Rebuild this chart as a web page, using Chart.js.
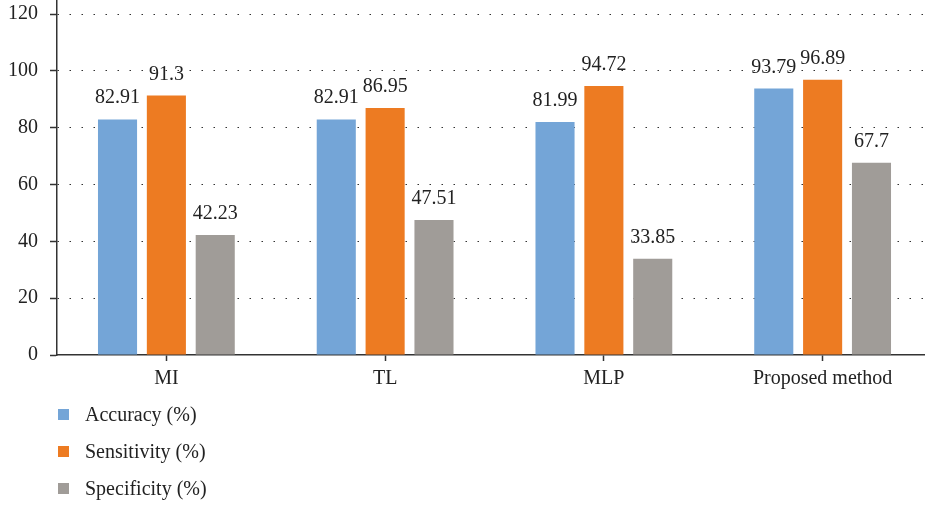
<!DOCTYPE html>
<html>
<head>
<meta charset="utf-8">
<script src="https://cdn.jsdelivr.net/npm/chart.js@4"></script>
<style>
  body { margin: 0; background: #fff; }
  #wrap { position: relative; width: 925px; height: 505px; overflow: hidden; }
  #chart { position: absolute; left: -4px; top: -23px; }
  #legend { position: absolute; left: 58px; top: 396px; font-family: "Liberation Serif", serif; font-size: 20px; color: #222; }
  .item { height: 37px; display: flex; align-items: center; }
  .box { width: 11px; height: 11px; margin-right: 16px; }
</style>
</head>
<body>
<div id="wrap">
  <canvas id="chart" width="936" height="528"></canvas>
  <div id="legend"></div>
</div>
<script>
const categories = ["MI", "TL", "MLP", "Proposed method"];
const accuracy = [82.91, 82.91, 81.99, 93.79];
const sensitivity = [91.3, 86.95, 94.72, 96.89];
const specificity = [42.23, 47.51, 33.85, 67.7];
const yTicks = [0, 20, 40, 60, 80, 100, 120];

const seriesNames = ["Accuracy (%)", "Sensitivity (%)", "Specificity (%)"];
const colors = ["#74a5d7", "#ed7b22", "#a09c98"];

// value labels above each bar
const barLabels = {
  id: "barLabels",
  afterDatasetsDraw(chart) {
    const ctx = chart.ctx;
    ctx.save();
    ctx.font = "20px 'Liberation Serif'";
    ctx.fillStyle = "#222";
    ctx.textAlign = "center";
    ctx.textBaseline = "alphabetic";
    chart.data.datasets.forEach((ds, i) => {
      chart.getDatasetMeta(i).data.forEach((bar, j) => {
        ctx.fillText(String(ds.data[j]), bar.x, bar.y - 16);
      });
    });
    ctx.restore();
  }
};

const ctx = document.getElementById("chart").getContext("2d");

const myChart = new Chart(ctx, {
  type: "bar",
  data: {
    labels: categories,
    datasets: [
      { label: seriesNames[0], data: accuracy, backgroundColor: colors[0] },
      { label: seriesNames[1], data: sensitivity, backgroundColor: colors[1] },
      { label: seriesNames[2], data: specificity, backgroundColor: colors[2] }
    ]
  },
  options: {
    responsive: false,
    animation: false,
    layout: { padding: { left: 0, right: 0, top: 0, bottom: 108 } },
    datasets: {
      bar: { categoryPercentage: 0.67, barPercentage: 0.8 }
    },
    scales: {
      x: {
        grid: { display: true, drawOnChartArea: false, offset: false, tickLength: 6, tickColor: "#333", tickWidth: 1.5 },
        border: { color: "#333", width: 1.5 },
        ticks: { color: "#222", padding: 6, font: { family: "Liberation Serif", size: 20 } }
      },
      y: {
        min: 0,
        max: 124.6,
        afterBuildTicks: axis => { axis.ticks = yTicks.map(v => ({ value: v })); },
        grid: {
          color: ctx => ctx.tick && ctx.tick.value === 0 ? "rgba(0,0,0,0)" : "#333",
          lineWidth: 1,
          tickLength: 7, tickColor: "#333", tickWidth: 1.5
        },
        border: { color: "#333", width: 1.5, dash: [1.5, 10.5] },
        ticks: { color: "#222", padding: 12, font: { family: "Liberation Serif", size: 20 } }
      }
    },
    plugins: {
      legend: { display: false },
      tooltip: { enabled: false }
    }
  },
  plugins: [barLabels]
});

// legend as html, stacked vertically
const legend = document.getElementById("legend");
seriesNames.forEach((name, i) => {
  const row = document.createElement("div");
  row.className = "item";
  row.innerHTML = '<span class="box" style="background:' + colors[i] + '"></span>' + name;
  legend.appendChild(row);
});
</script>
</body>
</html>
